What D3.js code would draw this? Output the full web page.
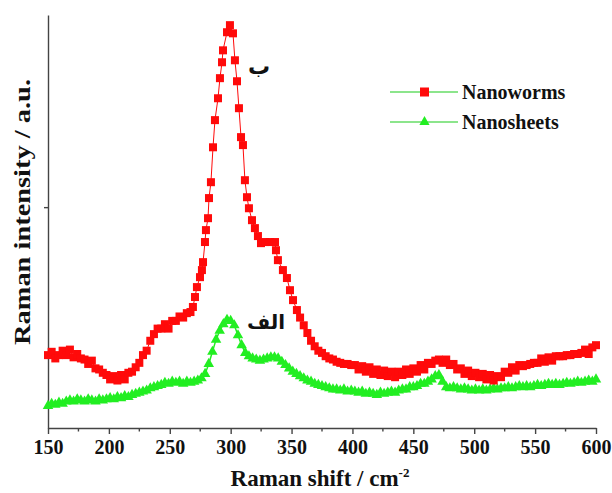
<!DOCTYPE html>
<html>
<head>
<meta charset="utf-8">
<script src="https://cdn.jsdelivr.net/npm/d3@7"></script>
<style>
  html, body { margin: 0; padding: 0; background: #fff; }
  svg { display: block; }
</style>
</head>
<body>
<svg id="chart"></svg>
<script>
// Raman shift (cm^-1) and intensity (a.u.)
const wormsShift = [
  150, 153, 156, 159, 162, 165, 168, 171, 174, 177, 180, 183, 186, 189, 192, 195, 198, 201, 204, 207,
  210, 213, 216, 219, 222, 225, 228, 231, 234, 237, 240, 243, 246, 249, 252, 255, 258, 261, 264, 267,
  269.0, 270.7, 272.3, 274.8, 276.4, 277.3, 278.9, 279.7, 281.4, 282.2, 283.8, 285.5, 287.1, 289.6,
  291.2, 292.9, 293.7, 297.0, 299.4, 301.9, 303.5, 305.2, 306.8, 308.5, 310.1, 311.7, 313.4, 315.0,
  317.5, 319.9, 322.4, 324.9, 328.2, 332.3, 336.4, 337.2, 338.8, 342.9, 346.2, 348.7, 351.2, 354.4,
  357, 360, 363, 366, 369, 372, 375, 378, 381, 384, 387, 390, 393, 396, 399, 402, 405, 408, 411, 414,
  417, 420, 423, 426, 429, 432, 435, 438, 441, 444, 447, 450, 453, 456, 459, 462, 465, 468, 471, 474,
  477, 480, 483, 486, 489, 492, 495, 498, 501, 504, 507, 510, 513, 516, 519, 522, 525, 528, 531, 534,
  537, 540, 543, 546, 549, 552, 555, 558, 561, 564, 567, 570, 573, 576, 579, 582, 585, 588, 591, 594,
  597, 600
];
const wormsIntensity = [
  0.33, 0.345, 0.315, 0.33, 0.35, 0.33, 0.355, 0.32, 0.335, 0.315, 0.31, 0.29, 0.305, 0.27, 0.265, 0.25, 0.24, 0.22, 0.235, 0.215,
  0.24, 0.22, 0.25, 0.255, 0.275, 0.295, 0.33, 0.35, 0.395, 0.425, 0.45, 0.45, 0.47, 0.45, 0.485, 0.485, 0.505, 0.50, 0.52, 0.525,
  0.548, 0.593, 0.638, 0.683, 0.715, 0.751, 0.842, 0.896, 0.950, 1.041, 1.113, 1.271, 1.394, 1.493,
  1.584, 1.656, 1.710, 1.792, 1.824, 1.787, 1.665, 1.570, 1.448, 1.317, 1.281, 1.122, 1.045, 0.995,
  0.941, 0.905, 0.869, 0.837, 0.842, 0.842, 0.842, 0.805, 0.760, 0.715, 0.679, 0.624, 0.579, 0.534,
  0.50, 0.465, 0.43, 0.395, 0.37, 0.35, 0.34, 0.325, 0.315, 0.31, 0.30, 0.295, 0.29, 0.29, 0.285, 0.285, 0.265, 0.28, 0.255, 0.275,
  0.245, 0.265, 0.24, 0.26, 0.235, 0.255, 0.23, 0.255, 0.24, 0.265, 0.245, 0.27, 0.255, 0.285, 0.265, 0.295, 0.29, 0.305, 0.31, 0.295,
  0.31, 0.285, 0.29, 0.265, 0.27, 0.245, 0.26, 0.235, 0.25, 0.23, 0.245, 0.22, 0.24, 0.215, 0.235, 0.23, 0.255, 0.25, 0.275, 0.26,
  0.285, 0.28, 0.285, 0.29, 0.295, 0.295, 0.315, 0.30, 0.32, 0.305, 0.325, 0.325, 0.325, 0.33, 0.33, 0.335, 0.335, 0.34, 0.355, 0.335,
  0.365, 0.375
];

const sheetsShift = [
  150, 153, 156, 159, 162, 165, 168, 171, 174, 177, 180, 183, 186, 189, 192, 195, 198, 201, 204, 207,
  210, 213, 216, 219, 222, 225, 228, 231, 234, 237, 240, 243, 246, 249, 252, 255, 258, 261, 264, 267,
  270, 273, 276, 279, 282, 285, 288, 291, 294, 297, 300, 303, 306, 309, 312, 315, 318, 321, 324, 327,
  330, 333, 336, 339, 342, 345, 348, 351, 354, 357, 360, 363, 366, 369, 372, 375, 378, 381, 384, 387,
  390, 393, 396, 399, 402, 405, 408, 411, 414, 417, 420, 423, 426, 429, 432, 435, 438, 441, 444, 447,
  450, 453, 456, 459, 462, 465, 468, 471, 474, 477, 480, 483, 486, 489, 492, 495, 498, 501, 504, 507,
  510, 513, 516, 519, 522, 525, 528, 531, 534, 537, 540, 543, 546, 549, 552, 555, 558, 561, 564, 567,
  570, 573, 576, 579, 582, 585, 588, 591, 594, 597, 600
];
const sheetsIntensity = [
  0.10, 0.11, 0.105, 0.115, 0.11, 0.12, 0.125, 0.12, 0.13, 0.125, 0.12, 0.13, 0.125, 0.12, 0.13, 0.125, 0.13, 0.135, 0.13, 0.14,
  0.135, 0.145, 0.14, 0.15, 0.155, 0.16, 0.165, 0.17, 0.18, 0.185, 0.19, 0.195, 0.205, 0.20, 0.21, 0.205, 0.21, 0.20, 0.21, 0.205,
  0.21, 0.215, 0.225, 0.245, 0.29, 0.345, 0.40, 0.44, 0.47, 0.49, 0.485, 0.465, 0.42, 0.375, 0.34, 0.325, 0.315, 0.31, 0.305, 0.31,
  0.315, 0.32, 0.32, 0.315, 0.30, 0.285, 0.27, 0.255, 0.245, 0.235, 0.225, 0.215, 0.21, 0.20, 0.195, 0.19, 0.185, 0.18, 0.175, 0.175,
  0.17, 0.175, 0.165, 0.17, 0.165, 0.16, 0.165, 0.155, 0.16, 0.155, 0.15, 0.16, 0.155, 0.16, 0.165, 0.16, 0.17, 0.175, 0.175, 0.185,
  0.185, 0.19, 0.20, 0.20, 0.21, 0.22, 0.235, 0.24, 0.21, 0.185, 0.18, 0.185, 0.18, 0.175, 0.18, 0.175, 0.17, 0.175, 0.17, 0.175,
  0.17, 0.175, 0.18, 0.175, 0.18, 0.18, 0.185, 0.18, 0.185, 0.19, 0.185, 0.19, 0.185, 0.19, 0.195, 0.19, 0.195, 0.20, 0.195, 0.20,
  0.195, 0.20, 0.205, 0.20, 0.205, 0.21, 0.205, 0.21, 0.215, 0.21, 0.22
];

const xTicks = [150, 200, 250, 300, 350, 400, 450, 500, 550, 600];
const xMinorTicks = [175, 225, 275, 325, 375, 425, 475, 525, 575];
const seriesNames = ["Nanoworms", "Nanosheets"];
const peakLabels = ["ب", "الف"];

const WIDTH = 612;
const HEIGHT = 493;
const margin = { top: 15, right: 16, bottom: 65, left: 48 };

const RED = "#ff0a0a";
const GREEN = "#22ee22";
const serif = '"Liberation Serif", "Times New Roman", serif';

const svg = d3.select("#chart").attr("width", WIDTH).attr("height", HEIGHT);

const x = d3.scaleLinear().domain([150, 600]).range([margin.left, WIDTH - margin.right]);
const y = d3.scaleLinear().domain([0, 1.87]).range([HEIGHT - margin.bottom, margin.top]);

const worms = wormsShift.map((s, i) => ({ s, v: wormsIntensity[i] }));
const sheets = sheetsShift.map((s, i) => ({ s, v: sheetsIntensity[i] }));

// axes
const xAxis = svg.append("g")
  .attr("transform", `translate(0, ${y(0)})`)
  .call(d3.axisBottom(x).tickValues(xTicks).tickSize(6).tickSizeOuter(0).tickPadding(6))
  .call((g) => {
    g.select(".domain").attr("stroke", "#444").attr("stroke-width", 1.4);
    g.selectAll(".tick line").attr("stroke", "#444").attr("stroke-width", 1.4);
    g.selectAll(".tick text")
      .attr("font-family", serif)
      .attr("font-weight", "bold")
      .attr("font-size", "20px")
      .attr("fill", "#111");
  });

xAxis.selectAll("line.minor")
  .data(xMinorTicks)
  .enter()
  .append("line")
  .attr("class", "minor")
  .attr("x1", (d) => x(d))
  .attr("x2", (d) => x(d))
  .attr("y1", 0)
  .attr("y2", 3.5)
  .attr("stroke", "#444")
  .attr("stroke-width", 1.4);

svg.append("g")
  .attr("transform", `translate(${x(150)}, 0)`)
  .call(d3.axisLeft(y).tickValues([1]).tickFormat("").tickSize(4).tickSizeOuter(0))
  .call((g) => {
    g.select(".domain").attr("stroke", "#444").attr("stroke-width", 1.4);
    g.selectAll(".tick line").attr("stroke", "#444").attr("stroke-width", 1.4);
  });

// axis titles
const xTitle = svg.append("text")
  .attr("x", 320)
  .attr("y", 486)
  .attr("text-anchor", "middle")
  .attr("font-family", serif)
  .attr("font-weight", "bold")
  .attr("font-size", "23px")
  .attr("fill", "#111");
xTitle.append("tspan").text("Raman shift / cm");
xTitle.append("tspan").attr("dy", -9).attr("font-size", "13px").text("-2");

svg.append("text")
  .attr("transform", `translate(30, 212) rotate(-90)`)
  .attr("text-anchor", "middle")
  .attr("font-family", serif)
  .attr("font-weight", "bold")
  .attr("font-size", "23px")
  .attr("textLength", 266)
  .attr("lengthAdjust", "spacingAndGlyphs")
  .attr("fill", "#111")
  .text("Raman intensity / a.u.");

// series
const line = d3.line().x((d) => x(d.s)).y((d) => y(d.v));
const triangle = d3.symbol().type(d3.symbolTriangle).size(48);

svg.append("path")
  .attr("d", line(sheets))
  .attr("fill", "none")
  .attr("stroke", GREEN)
  .attr("stroke-width", 1.5);

svg.append("g")
  .selectAll("path")
  .data(sheets)
  .enter()
  .append("path")
  .attr("d", triangle)
  .attr("transform", (d) => `translate(${x(d.s)}, ${y(d.v)})`)
  .attr("fill", GREEN);

svg.append("path")
  .attr("d", line(worms))
  .attr("fill", "none")
  .attr("stroke", RED)
  .attr("stroke-width", 1);

svg.append("g")
  .selectAll("rect")
  .data(worms)
  .enter()
  .append("rect")
  .attr("x", (d) => x(d.s) - 4)
  .attr("y", (d) => y(d.v) - 4)
  .attr("width", 8)
  .attr("height", 8)
  .attr("fill", RED);

// peak labels (Persian)
svg.append("text")
  .attr("x", 259)
  .attr("y", 74)
  .attr("text-anchor", "middle")
  .attr("font-family", '"DejaVu Sans", sans-serif')
  .attr("font-weight", "bold")
  .attr("font-size", "22px")
  .attr("fill", "#111")
  .text(peakLabels[0]);

svg.append("text")
  .attr("x", 266)
  .attr("y", 329)
  .attr("text-anchor", "middle")
  .attr("font-family", '"DejaVu Sans", sans-serif')
  .attr("font-weight", "bold")
  .attr("font-size", "20px")
  .attr("fill", "#111")
  .text(peakLabels[1]);

// legend
const legend = svg.append("g").attr("transform", "translate(390, 92)");
seriesNames.forEach((name, i) => {
  const row = legend.append("g").attr("transform", `translate(0, ${i * 30})`);
  row.append("line")
    .attr("x1", 0).attr("x2", 68)
    .attr("stroke", "#66dd66")
    .attr("stroke-width", 1.5);
  if (i === 0) {
    row.append("rect")
      .attr("x", 30).attr("y", -4.5)
      .attr("width", 9).attr("height", 9)
      .attr("fill", RED);
  } else {
    row.append("path")
      .attr("d", d3.symbol().type(d3.symbolTriangle).size(45))
      .attr("transform", "translate(34.5, 0)")
      .attr("fill", GREEN);
  }
  row.append("text")
    .attr("x", 72)
    .attr("y", 7)
    .attr("font-family", serif)
    .attr("font-weight", "bold")
    .attr("font-size", "20px")
    .attr("fill", "#111")
    .text(name);
});
</script>
</body>
</html>
